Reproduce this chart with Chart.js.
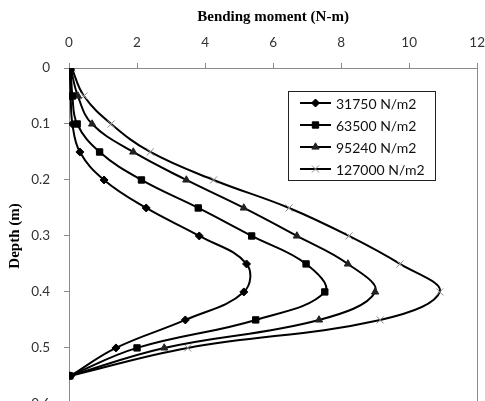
<!DOCTYPE html>
<html>
<head>
<meta charset="utf-8">
<script src="https://cdn.jsdelivr.net/npm/chart.js@4"></script>
<style>
  html, body { margin: 0; padding: 0; background: #fff; overflow: hidden; }
  #wrap { width: 497px; height: 426px; }
</style>
</head>
<body>
<div id="wrap"><canvas id="momentChart" width="497" height="426"></canvas></div>
<script>
// depth below surface (m) and bending moment (N-m) for each pressure
const depth = [0, 0.05, 0.1, 0.15, 0.2, 0.25, 0.3, 0.35, 0.4, 0.45, 0.5, 0.55];
const moment31750 = [0.02, 0.05, 0.1, 0.32, 1.03, 2.27, 3.83, 5.22, 5.14, 3.42, 1.38, 0.05];
const moment63500 = [0.05, 0.1, 0.24, 0.9, 2.13, 3.8, 5.37, 6.97, 7.52, 5.49, 2.0, 0.02];
const moment95240 = [0.05, 0.26, 0.68, 1.89, 3.45, 5.14, 6.7, 8.2, 9.0, 7.35, 2.8, 0.02];
const moment127000 = [0.08, 0.44, 1.24, 2.39, 4.25, 6.47, 8.23, 9.73, 10.9, 9.15, 3.49, 0.02];
const seriesLabels = ['31750 N/m2', '63500 N/m2', '95240 N/m2', '127000 N/m2'];
const xTicks = [0, 2, 4, 6, 8, 10, 12];
const yTicks = [0, 0.1, 0.2, 0.3, 0.4, 0.5, 0.6];

const axisGray = '#8a8a8a';
const tickFont = { family: 'Lato', size: 13.5 };
const titleFont = { family: 'Liberation Serif', size: 15, weight: 'bold' };

function toPoints(values) {
    return values.map((v, i) => ({ x: v, y: depth[i] }));
}

const markerStyles = [
    { pointStyle: 'rectRot', pointRadius: 4, color: '#000', bw: 1 },
    { pointStyle: 'rect', pointRadius: 4.5, color: '#000', bw: 1 },
    { pointStyle: 'triangle', pointRadius: 4.2, color: '#222', bw: 1 },
    { pointStyle: 'crossRot', pointRadius: 5, color: '#8a8a8a', bw: 1 }
];

const allSeries = [moment31750, moment63500, moment95240, moment127000];

const datasets = allSeries.map((vals, i) => ({
    label: seriesLabels[i],
    data: toPoints(vals),
    showLine: true,
    tension: 0.4,
    borderColor: '#000',
    borderWidth: 2,
    pointStyle: markerStyles[i].pointStyle,
    pointRadius: markerStyles[i].pointRadius,
    pointBackgroundColor: markerStyles[i].color,
    pointBorderColor: markerStyles[i].color,
    pointBorderWidth: markerStyles[i].bw
}));

// excel-like boxed legend and right frame line
const boxLegend = {
    id: 'boxLegend',
    afterDraw(chart) {
        const ctx = chart.ctx;
        const area = chart.chartArea;
        ctx.save();
        ctx.strokeStyle = axisGray;
        ctx.lineWidth = 1;
        ctx.beginPath();
        ctx.moveTo(Math.round(area.right) + 0.5, area.top);
        ctx.lineTo(Math.round(area.right) + 0.5, area.bottom);
        ctx.stroke();

        const bx = 288.5, by = 91.5, bw = 147, bh = 89;
        ctx.fillStyle = '#fff';
        ctx.fillRect(bx, by, bw, bh);
        ctx.strokeStyle = '#222';
        ctx.strokeRect(bx, by, bw, bh);

        ctx.font = '14px Lato';
        ctx.textBaseline = 'middle';
        chart.data.datasets.forEach((ds, i) => {
            const y = 103 + i * 22;
            ctx.strokeStyle = '#000';
            ctx.lineWidth = 2;
            ctx.beginPath();
            ctx.moveTo(300, y);
            ctx.lineTo(331, y);
            ctx.stroke();
            ctx.fillStyle = ds.pointBackgroundColor;
            ctx.strokeStyle = ds.pointBorderColor;
            ctx.lineWidth = ds.pointBorderWidth;
            Chart.helpers.drawPoint(ctx, {
                pointStyle: ds.pointStyle,
                radius: ds.pointRadius,
                rotation: 0,
                borderWidth: ds.pointBorderWidth
            }, 315.5, y);
            ctx.fillStyle = '#111';
            ctx.fillText(ds.label, 336, y + 1);
        });
        ctx.restore();
    }
};

new Chart(document.getElementById('momentChart'), {
    type: 'scatter',
    data: { datasets: datasets },
    options: {
        responsive: false,
        animation: false,
        layout: { padding: { left: 4, right: 0, top: 8, bottom: 0 } },
        plugins: {
            legend: { display: false },
            tooltip: { enabled: false }
        },
        scales: {
            x: {
                type: 'linear',
                position: 'top',
                min: 0,
                max: 12,
                afterBuildTicks(scale) {
                    scale.ticks = xTicks.map(v => ({ value: v }));
                },
                afterFit(scale) { scale.height = 60; },
                ticks: { color: '#333', font: tickFont, padding: 12 },
                grid: { drawOnChartArea: false, color: axisGray, tickLength: 5 },
                border: { color: axisGray },
                title: { display: true, text: 'Bending moment (N-m)', color: '#000', font: titleFont, padding: { top: 0, bottom: 0 } }
            },
            y: {
                type: 'linear',
                reverse: true,
                min: 0,
                max: 0.6,
                afterBuildTicks(scale) {
                    scale.ticks = yTicks.map(v => ({ value: v }));
                },
                afterFit(scale) { scale.width = 65; },
                ticks: { color: '#333', font: tickFont, padding: 14 },
                grid: { drawOnChartArea: false, color: axisGray, tickLength: 5 },
                border: { color: axisGray },
                title: { display: true, text: 'Depth (m)', color: '#000', font: titleFont, padding: { top: 2, bottom: 0 } }
            }
        }
    },
    plugins: [boxLegend]
});
</script>
</body>
</html>
